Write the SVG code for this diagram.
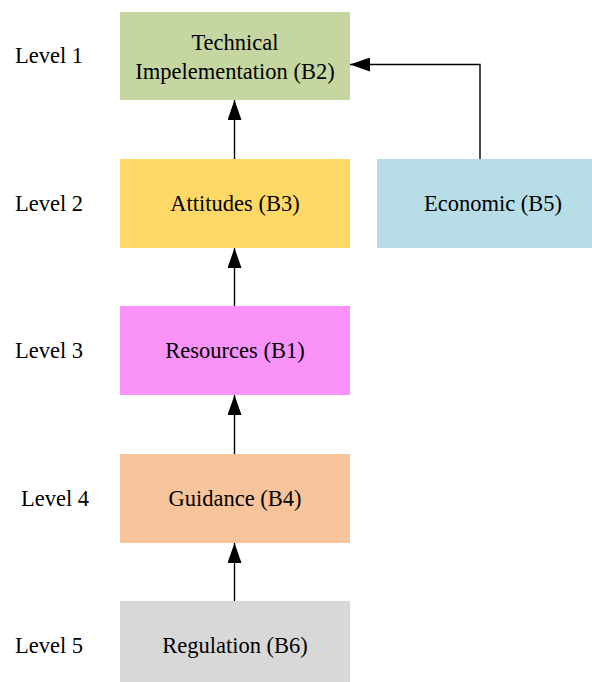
<svg xmlns="http://www.w3.org/2000/svg" width="592" height="682" viewBox="0 0 592 682">
<defs>
<style>
text{font-family:'Liberation Serif','Times New Roman',serif;font-size:22.5px;fill:#000}
.c{text-anchor:middle}
.edge{stroke:#000;stroke-width:1.4;fill:none}
</style>
<marker id="ah" markerWidth="20" markerHeight="14" refX="20" refY="7" orient="auto" markerUnits="userSpaceOnUse">
<polygon points="0,0 20,7 0,14" fill="#000"/>
</marker>
</defs>
<rect width="592" height="682" fill="#fff"/>
<g id="levels">
<text x="15" y="63">Level 1</text>
<text x="15" y="211">Level 2</text>
<text x="15" y="358">Level 3</text>
<text x="21" y="506">Level 4</text>
<text x="15" y="653">Level 5</text>
</g>
<g id="B2"><rect x="120" y="12" width="230" height="88" fill="#c5d6a0"/>
<text class="c" x="235" y="50">Technical</text><text class="c" x="235" y="79">Impelementation (B2)</text></g>
<g id="B3"><rect x="120" y="159" width="230" height="89" fill="#fed967"/><text class="c" x="235" y="211">Attitudes (B3)</text></g>
<g id="B5"><rect x="377" y="159" width="232" height="89" fill="#b7dde7"/><text class="c" x="493" y="211">Economic (B5)</text></g>
<g id="B1"><rect x="120" y="306" width="230" height="89" fill="#f993f9"/><text class="c" x="235" y="358">Resources (B1)</text></g>
<g id="B4"><rect x="120" y="454" width="230" height="89" fill="#f8c49b"/><text class="c" x="235" y="506">Guidance (B4)</text></g>
<g id="B6"><rect x="120" y="601" width="230" height="89" fill="#d8d8d8"/><text class="c" x="235" y="653">Regulation (B6)</text></g>
<g id="connectors">
<path class="edge" d="M234.5,159 V100" marker-end="url(#ah)"/>
<path class="edge" d="M234.5,306 V248" marker-end="url(#ah)"/>
<path class="edge" d="M234.5,454 V395" marker-end="url(#ah)"/>
<path class="edge" d="M234.5,601 V543" marker-end="url(#ah)"/>
<path class="edge" d="M480,159 V64.5 H350" marker-end="url(#ah)"/>
</g>
</svg>
